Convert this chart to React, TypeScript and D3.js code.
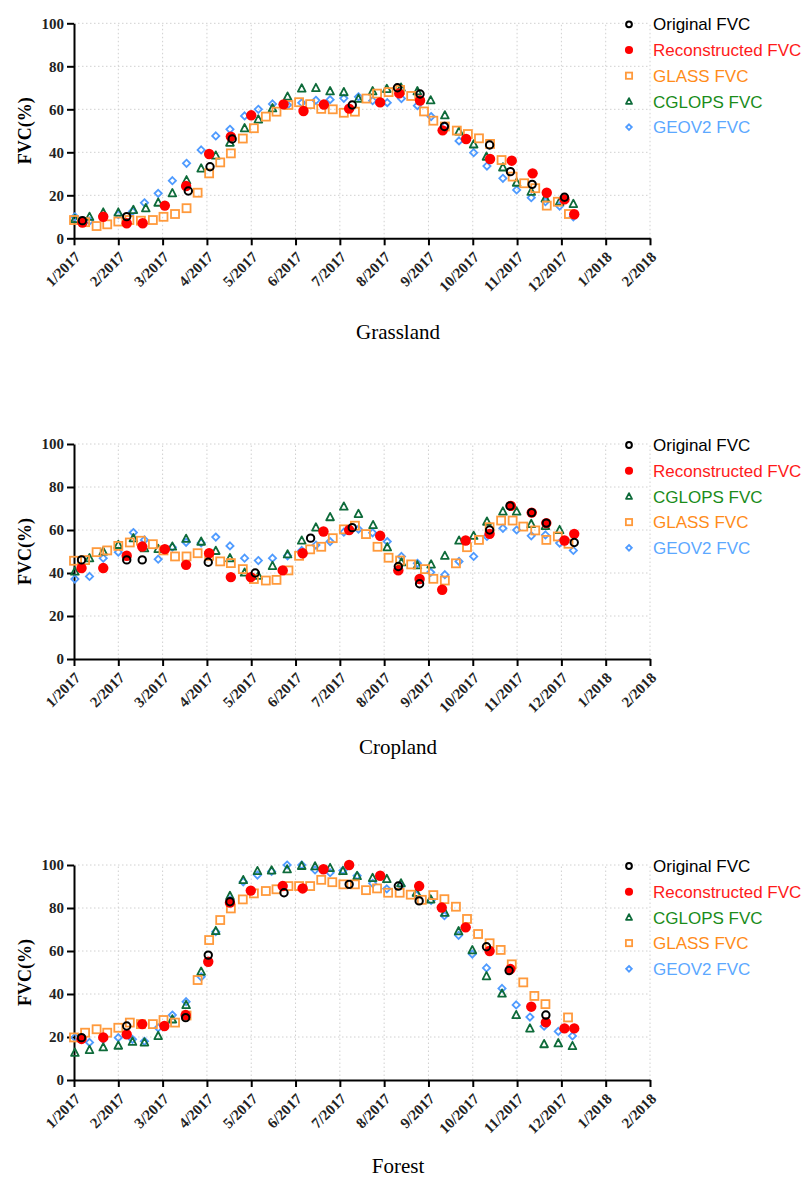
import React, { useEffect, useRef } from 'react';
import * as d3 from 'd3';

// [position in months since 1/2017, FVC %]
type Pt = [number, number];

const monthLabels = ['1/2017', '2/2017', '3/2017', '4/2017', '5/2017', '6/2017', '7/2017',
    '8/2017', '9/2017', '10/2017', '11/2017', '12/2017', '1/2018', '2/2018'];
const yTicks = [0, 20, 40, 60, 80, 100];

// ---- Grassland
const grassOriginal: Pt[] = [[0.19, 8.2], [1.19, 10.1], [2.58, 22], [3.07, 33.3], [3.57, 46.2], [6.28, 62], [7.3, 70],
    [7.81, 67.1], [8.36, 52], [9.38, 43.4], [9.85, 31], [10.34, 25.1], [11.07, 19.1]];
const grassRecon: Pt[] = [[0.19, 7.3], [0.66, 10], [1.19, 7], [1.55, 7], [2.05, 15.2], [2.53, 24.3], [3.05, 39.2],
    [3.54, 47.3], [4.0, 57.2], [4.73, 62.3], [5.18, 59.2], [5.64, 62.2], [6.21, 60.3], [6.91, 63.2], [7.34, 67.4],
    [7.81, 64.1], [8.32, 50.2], [8.85, 46.2], [9.39, 36.9], [9.88, 36.1], [10.35, 30.2], [10.67, 21.2], [11.07, 18.1],
    [11.29, 11.2]];
const grassGlass: Pt[] = [[0, 8.5], [0.25, 7.5], [0.51, 5.7], [0.75, 6.5], [1.0, 7.8], [1.25, 8.5], [1.51, 8.2],
    [1.78, 8.5], [2.02, 10], [2.28, 11.3], [2.54, 14], [2.79, 21.2], [3.05, 30.2], [3.3, 35.3], [3.54, 39.5],
    [3.81, 46.4], [4.06, 51.2], [4.33, 56.6], [4.57, 58.9], [4.84, 62], [5.08, 63.3], [5.33, 62.4], [5.58, 60.2],
    [5.84, 60], [6.09, 58.4], [6.34, 58.9], [6.6, 65], [6.84, 67.3], [7.1, 68], [7.36, 69], [7.61, 66.2], [7.9, 59],
    [8.11, 54.7], [8.37, 52], [8.64, 50.1], [8.89, 48.5], [9.14, 46.5], [9.39, 43.9], [9.65, 36.4], [9.9, 28.7],
    [10.16, 25.6], [10.41, 23.3], [10.67, 15.2], [10.92, 17], [11.17, 11.3]];
const grassCglops: Pt[] = [[0.02, 9], [0.35, 10], [0.66, 12], [1.0, 12], [1.34, 13.2], [1.62, 14], [1.9, 16.6],
    [2.22, 21], [2.54, 27], [2.87, 32.5], [3.2, 38.5], [3.52, 44.5], [3.85, 51.2], [4.16, 55.3], [4.48, 60.5],
    [4.82, 65.9], [5.14, 69.7], [5.46, 69.9], [5.78, 68.4], [6.09, 68], [6.42, 64.9], [6.74, 68.4], [7.06, 69.5],
    [7.38, 70.1], [7.75, 68.4], [8.05, 64.2], [8.37, 57.2], [8.69, 49.7], [9.02, 43.7], [9.31, 38], [9.68, 33],
    [9.99, 25.9], [10.32, 21.7], [10.64, 18.6], [10.96, 17], [11.27, 16]];
const grassGeov2: Pt[] = [[0.02, 10], [0.35, 8], [0.66, 10], [1.0, 11], [1.32, 12.5], [1.59, 16.5], [1.9, 20.9],
    [2.22, 26.8], [2.54, 34.9], [2.87, 41.1], [3.2, 47.6], [3.52, 50.7], [3.85, 56.9], [4.16, 60], [4.48, 62.5],
    [4.82, 62], [5.14, 63], [5.46, 64.2], [5.78, 64.5], [6.09, 65.1], [6.42, 65.8], [6.74, 64], [7.07, 63.1],
    [7.39, 65], [7.75, 61.7], [8.06, 56.6], [8.37, 52.2], [8.69, 45.3], [9.02, 39.8], [9.32, 33.6], [9.68, 27.9],
    [9.99, 22.5], [10.32, 18.9], [10.64, 17], [10.96, 15], [11.27, 10]];

// ---- Cropland
const cropOriginal: Pt[] = [[0.17, 46.1], [1.19, 46.1], [1.54, 46.1], [3.03, 45], [4.09, 40], [5.34, 56.2],
    [6.28, 61.1], [7.32, 43], [7.8, 35], [9.38, 60], [9.84, 71.2], [10.33, 68.1], [10.66, 63.2], [11.29, 54.2]];
const cropRecon: Pt[] = [[0.17, 42.3], [0.66, 42.3], [1.19, 48], [1.54, 52.3], [2.05, 51.1], [2.53, 43.8],
    [3.05, 49.2], [3.54, 38.1], [3.99, 38.1], [4.71, 41.2], [5.16, 49.2], [5.63, 59.3], [6.21, 60], [6.91, 57.3],
    [7.32, 41.2], [7.8, 37.2], [8.31, 32.2], [8.84, 55.1], [9.38, 58.2], [9.86, 71.2], [10.33, 68.1], [10.66, 63.2],
    [11.07, 55.1], [11.29, 58.2]];
const cropCglops: Pt[] = [[0.02, 40.7], [0.35, 46.9], [0.66, 50], [1.0, 53.1], [1.34, 56.2], [1.59, 51.5],
    [1.9, 51.2], [2.22, 52.3], [2.53, 55.9], [2.87, 54.6], [3.2, 50.3], [3.52, 46.9], [3.85, 40.2], [4.16, 38.7],
    [4.48, 43.3], [4.82, 48.7], [5.14, 55.1], [5.46, 61.2], [5.78, 66], [6.09, 70.9], [6.42, 67.5], [6.75, 62.3],
    [7.07, 52], [7.39, 45], [7.75, 43.6], [8.06, 44], [8.37, 48], [8.69, 55.1], [9.02, 57.3], [9.32, 63.9],
    [9.68, 68.6], [9.99, 68.6], [10.32, 62.8], [10.64, 61.9], [10.96, 60]];
const cropGlass: Pt[] = [[0, 45.7], [0.25, 46], [0.51, 49.7], [0.75, 50.5], [1.0, 52.6], [1.26, 54.2], [1.51, 55],
    [1.78, 53.4], [2.02, 50.5], [2.28, 47.7], [2.54, 47.7], [2.79, 49.2], [3.05, 48], [3.3, 45.4], [3.54, 44.6],
    [3.81, 41.8], [4.06, 37.2], [4.33, 36.5], [4.57, 36.8], [4.84, 41.2], [5.08, 48], [5.33, 51], [5.58, 52.2],
    [5.84, 56.2], [6.09, 60.3], [6.34, 62], [6.59, 58.1], [6.85, 52.2], [7.1, 47.1], [7.36, 45.8], [7.61, 44],
    [7.92, 41.8], [8.11, 37.3], [8.37, 36.5], [8.62, 44.5], [8.87, 52], [9.14, 55.4], [9.38, 61.3], [9.64, 64.4],
    [9.9, 64.4], [10.14, 61.6], [10.41, 59.8], [10.66, 55.4], [10.92, 57], [11.16, 53.6]];
const cropGeov2: Pt[] = [[0.02, 37.2], [0.35, 38.4], [0.66, 46.9], [1.0, 49.7], [1.34, 58.8], [1.59, 55.4],
    [1.9, 46.4], [2.22, 52], [2.53, 54.3], [2.87, 54], [3.2, 56.7], [3.52, 52.6], [3.85, 46.9], [4.16, 45.8],
    [4.48, 46.9], [4.82, 48], [5.14, 50.5], [5.46, 53], [5.78, 54.6], [6.09, 59], [6.42, 60.4], [6.74, 58.7],
    [7.07, 54.6], [7.39, 47.7], [7.75, 44.5], [8.05, 40.3], [8.37, 39.2], [8.69, 45.4], [9.02, 47.7], [9.32, 57],
    [9.68, 60.8], [9.99, 60], [10.32, 57.3], [10.64, 57.7], [10.96, 53.9], [11.27, 50.5]];

// ---- Forest
const forestOriginal: Pt[] = [[0.17, 19.7], [1.19, 25.1], [2.52, 29], [3.03, 58.1], [3.52, 82.9], [4.74, 87.1],
    [6.21, 91], [7.32, 90.2], [7.79, 83.3], [9.31, 62], [9.82, 50.9], [10.65, 30.2]];
const forestRecon: Pt[] = [[0.17, 19.1], [0.66, 19.8], [1.19, 21.2], [1.54, 26], [2.04, 25.1], [2.52, 30.2],
    [3.03, 55], [3.52, 82.5], [3.99, 88.1], [4.71, 90.2], [5.16, 89.1], [5.63, 98], [6.21, 100], [6.91, 95],
    [7.79, 90.2], [8.3, 80.2], [8.84, 71], [9.38, 60], [9.85, 51.6], [10.32, 34.1], [10.65, 26.8], [11.07, 24],
    [11.29, 24]];
const forestCglops: Pt[] = [[0.02, 12.7], [0.35, 14], [0.66, 15.2], [1.0, 16], [1.32, 17.8], [1.59, 17.5],
    [1.9, 20.5], [2.22, 28.2], [2.53, 34.9], [2.87, 50.4], [3.2, 69.3], [3.52, 85.6], [3.82, 93], [4.14, 97.2],
    [4.46, 97.5], [4.81, 98], [5.14, 99.6], [5.44, 99.4], [5.78, 98.6], [6.07, 97.2], [6.39, 94.9], [6.74, 94],
    [7.06, 93.5], [7.38, 91.5], [7.73, 87.1], [8.05, 84], [8.37, 77.8], [8.68, 69.2], [8.99, 60.4], [9.31, 48.3],
    [9.66, 40.2], [9.98, 30.2], [10.29, 24], [10.61, 16.7], [10.93, 17.1], [11.25, 15.8]];
const forestGlass: Pt[] = [[0, 19.8], [0.25, 22], [0.51, 23.6], [0.75, 22], [1.0, 24.3], [1.26, 26.7], [1.51, 26],
    [1.78, 26], [2.02, 27.9], [2.28, 26.7], [2.54, 30], [2.79, 46.5], [3.05, 65.1], [3.3, 74.4], [3.54, 79.8],
    [3.81, 84], [4.06, 86.8], [4.33, 87.9], [4.57, 88.7], [4.84, 90.2], [5.08, 90.2], [5.33, 90.2], [5.58, 93.1],
    [5.83, 92], [6.08, 91], [6.34, 91], [6.59, 88.3], [6.84, 89.1], [7.09, 87.1], [7.35, 87.1], [7.6, 86.2],
    [7.85, 83.8], [8.11, 86], [8.36, 84.1], [8.62, 80.6], [8.87, 74.9], [9.12, 67.9], [9.38, 63.6], [9.63, 60.5],
    [9.88, 53.8], [10.14, 45.4], [10.39, 39.1], [10.64, 35.3], [11.15, 29.1]];
const forestGeov2: Pt[] = [[0.02, 19.8], [0.35, 17.5], [0.66, 18.9], [1.0, 19.7], [1.32, 18.9], [1.59, 18],
    [1.9, 24.3], [2.22, 30.2], [2.53, 36.4], [2.87, 48], [3.2, 69], [3.52, 83.7], [3.82, 92.2], [4.14, 95.3],
    [4.46, 97], [4.81, 100], [5.14, 100], [5.44, 97.7], [5.78, 96.4], [6.07, 97.5], [6.39, 95], [6.74, 91.5],
    [7.06, 88.9], [7.38, 90.5], [7.73, 86], [8.06, 83.5], [8.36, 76.4], [8.68, 67.3], [8.99, 58.6], [9.31, 52.1],
    [9.66, 42.6], [9.98, 34.9], [10.29, 29.3], [10.61, 25], [10.93, 22.6], [11.25, 20.5]];

type Key = 'original' | 'recon' | 'glass' | 'cglops' | 'geov2';

const seriesStyle: Record<Key, { name: string; color: string; text: string }> = {
    original: { name: 'Original FVC', color: '#000000', text: '#000000' },
    recon: { name: 'Reconstructed FVC', color: '#ff0000', text: '#ff1a1a' },
    glass: { name: 'GLASS FVC', color: '#ff9a3c', text: '#ff8c1a' },
    cglops: { name: 'CGLOPS FVC', color: '#0e6b3a', text: '#1a8c1a' },
    geov2: { name: 'GEOV2 FVC', color: '#4f9bff', text: '#5ca8ff' },
};

// draw order (back to front)
const drawOrder: Key[] = ['geov2', 'cglops', 'glass', 'recon', 'original'];

const panels = [
    {
        title: 'Grassland', top: 23.3, titleY: 339,
        data: { original: grassOriginal, recon: grassRecon, glass: grassGlass, cglops: grassCglops, geov2: grassGeov2 },
        legend: ['original', 'recon', 'glass', 'cglops', 'geov2'] as Key[],
    },
    {
        title: 'Cropland', top: 444, titleY: 754,
        data: { original: cropOriginal, recon: cropRecon, glass: cropGlass, cglops: cropCglops, geov2: cropGeov2 },
        legend: ['original', 'recon', 'cglops', 'glass', 'geov2'] as Key[],
    },
    {
        title: 'Forest', top: 865, titleY: 1173,
        data: { original: forestOriginal, recon: forestRecon, glass: forestGlass, cglops: forestCglops, geov2: forestGeov2 },
        legend: ['original', 'recon', 'cglops', 'glass', 'geov2'] as Key[],
    },
];

const serif = "'Liberation Serif', 'Times New Roman', serif";
const sans = "'Liberation Sans', Arial, sans-serif";

// append one marker of a series at (cx, cy); s scales it down for the legend
function marker(g: d3.Selection<SVGGElement, unknown, null, undefined>, key: Key, cx: number, cy: number, s = 1) {
    const c = seriesStyle[key].color;
    if (key === 'original') {
        g.append('circle').attr('cx', cx).attr('cy', cy).attr('r', 3.7 * s)
            .attr('fill', 'none').attr('stroke', c).attr('stroke-width', 2);
    } else if (key === 'recon') {
        g.append('circle').attr('cx', cx).attr('cy', cy).attr('r', 5.2 * s).attr('fill', c);
    } else if (key === 'glass') {
        const a = 8 * s;
        g.append('rect').attr('x', cx - a / 2).attr('y', cy - a / 2).attr('width', a).attr('height', a)
            .attr('fill', 'none').attr('stroke', c).attr('stroke-width', 1.8);
    } else if (key === 'cglops') {
        const h = 7 * s;
        g.append('path')
            .attr('d', `M${cx},${cy - h * 0.6}L${cx + h * 0.55},${cy + h * 0.45}L${cx - h * 0.55},${cy + h * 0.45}Z`)
            .attr('fill', 'none').attr('stroke', c).attr('stroke-width', 1.8).attr('stroke-linejoin', 'round');
    } else {
        const r = 3.6 * s;
        g.append('path')
            .attr('d', `M${cx},${cy - r}L${cx + r},${cy}L${cx},${cy + r}L${cx - r},${cy}Z`)
            .attr('fill', 'none').attr('stroke', c).attr('stroke-width', 1.8);
    }
}

const App: React.FC = () => {
    const svgRef = useRef<SVGSVGElement>(null);

    useEffect(() => {
        const svg = d3.select(svgRef.current);
        svg.selectAll('*').remove();

        const plotH = 215;
        const x = d3.scaleLinear().domain([0, 13]).range([74, 650]);

        panels.forEach(p => {
            const y = d3.scaleLinear().domain([0, 100]).range([p.top + plotH, p.top]);
            const g = svg.append('g');

            // dotted grid
            g.append('g').selectAll('line').data(yTicks.slice(1)).enter().append('line')
                .attr('x1', x(0)).attr('x2', x(13)).attr('y1', d => y(d)).attr('y2', d => y(d))
                .attr('stroke', '#d0d0d0').attr('stroke-dasharray', '1.5,2.5');
            g.append('g').selectAll('line').data(d3.range(1, 14)).enter().append('line')
                .attr('x1', d => x(d)).attr('x2', d => x(d)).attr('y1', y(0)).attr('y2', y(100))
                .attr('stroke', '#d0d0d0').attr('stroke-dasharray', '1.5,2.5');

            // x axis
            const xa = g.append('g').attr('transform', `translate(0,${y(0)})`)
                .call(d3.axisBottom(x).tickValues(d3.range(0, 14)).tickFormat(i => monthLabels[i as number])
                    .tickSize(7).tickSizeOuter(0));
            xa.select('.domain').attr('stroke-width', 2);
            xa.selectAll('.tick line').attr('stroke-width', 2);
            xa.selectAll('.tick text')
                .attr('x', 0).attr('y', 0).attr('dy', '0.35em')
                .attr('transform', 'translate(3,16) rotate(-45)')
                .attr('text-anchor', 'end')
                .style('font-family', serif).style('font-size', '15px').style('font-weight', 'bold')
                .attr('fill', '#222');

            // y axis
            const ya = g.append('g').attr('transform', `translate(${x(0)},0)`)
                .call(d3.axisLeft(y).tickValues(yTicks).tickSize(7).tickPadding(3).tickSizeOuter(0));
            ya.select('.domain').attr('stroke-width', 2);
            ya.selectAll('.tick line').attr('stroke-width', 2);
            ya.selectAll('.tick text')
                .style('font-family', serif).style('font-size', '15px').style('font-weight', 'bold')
                .attr('fill', '#222');

            g.append('text')
                .attr('transform', `translate(31,${y(50)}) rotate(-90)`)
                .attr('text-anchor', 'middle')
                .style('font-family', serif).style('font-size', '18px').style('font-weight', 'bold')
                .text('FVC(%)');

            // points
            drawOrder.forEach(k => {
                const sg = g.append('g');
                (p.data[k] as Pt[]).forEach(d => marker(sg, k, x(d[0]), y(d[1])));
            });

            // legend
            p.legend.forEach((k, i) => {
                const ly = p.top + 1 + i * 25.7;
                const lg = g.append('g');
                marker(lg, k, 629, ly, 0.78);
                lg.append('text').attr('x', 653).attr('y', ly).attr('dy', '0.36em')
                    .style('font-family', sans).style('font-size', '17px')
                    .attr('fill', seriesStyle[k].text)
                    .text(seriesStyle[k].name);
            });

            // panel title
            g.append('text').attr('x', 398).attr('y', p.titleY).attr('text-anchor', 'middle')
                .style('font-family', serif).style('font-size', '21px')
                .text(p.title);
        });
    }, []);

    return (
        <div style={{ position: 'absolute', left: 0, top: 0 }}>
            <svg ref={svgRef} width={811} height={1179} style={{ display: 'block', background: '#fff' }}></svg>
        </div>
    );
};

export default App;
